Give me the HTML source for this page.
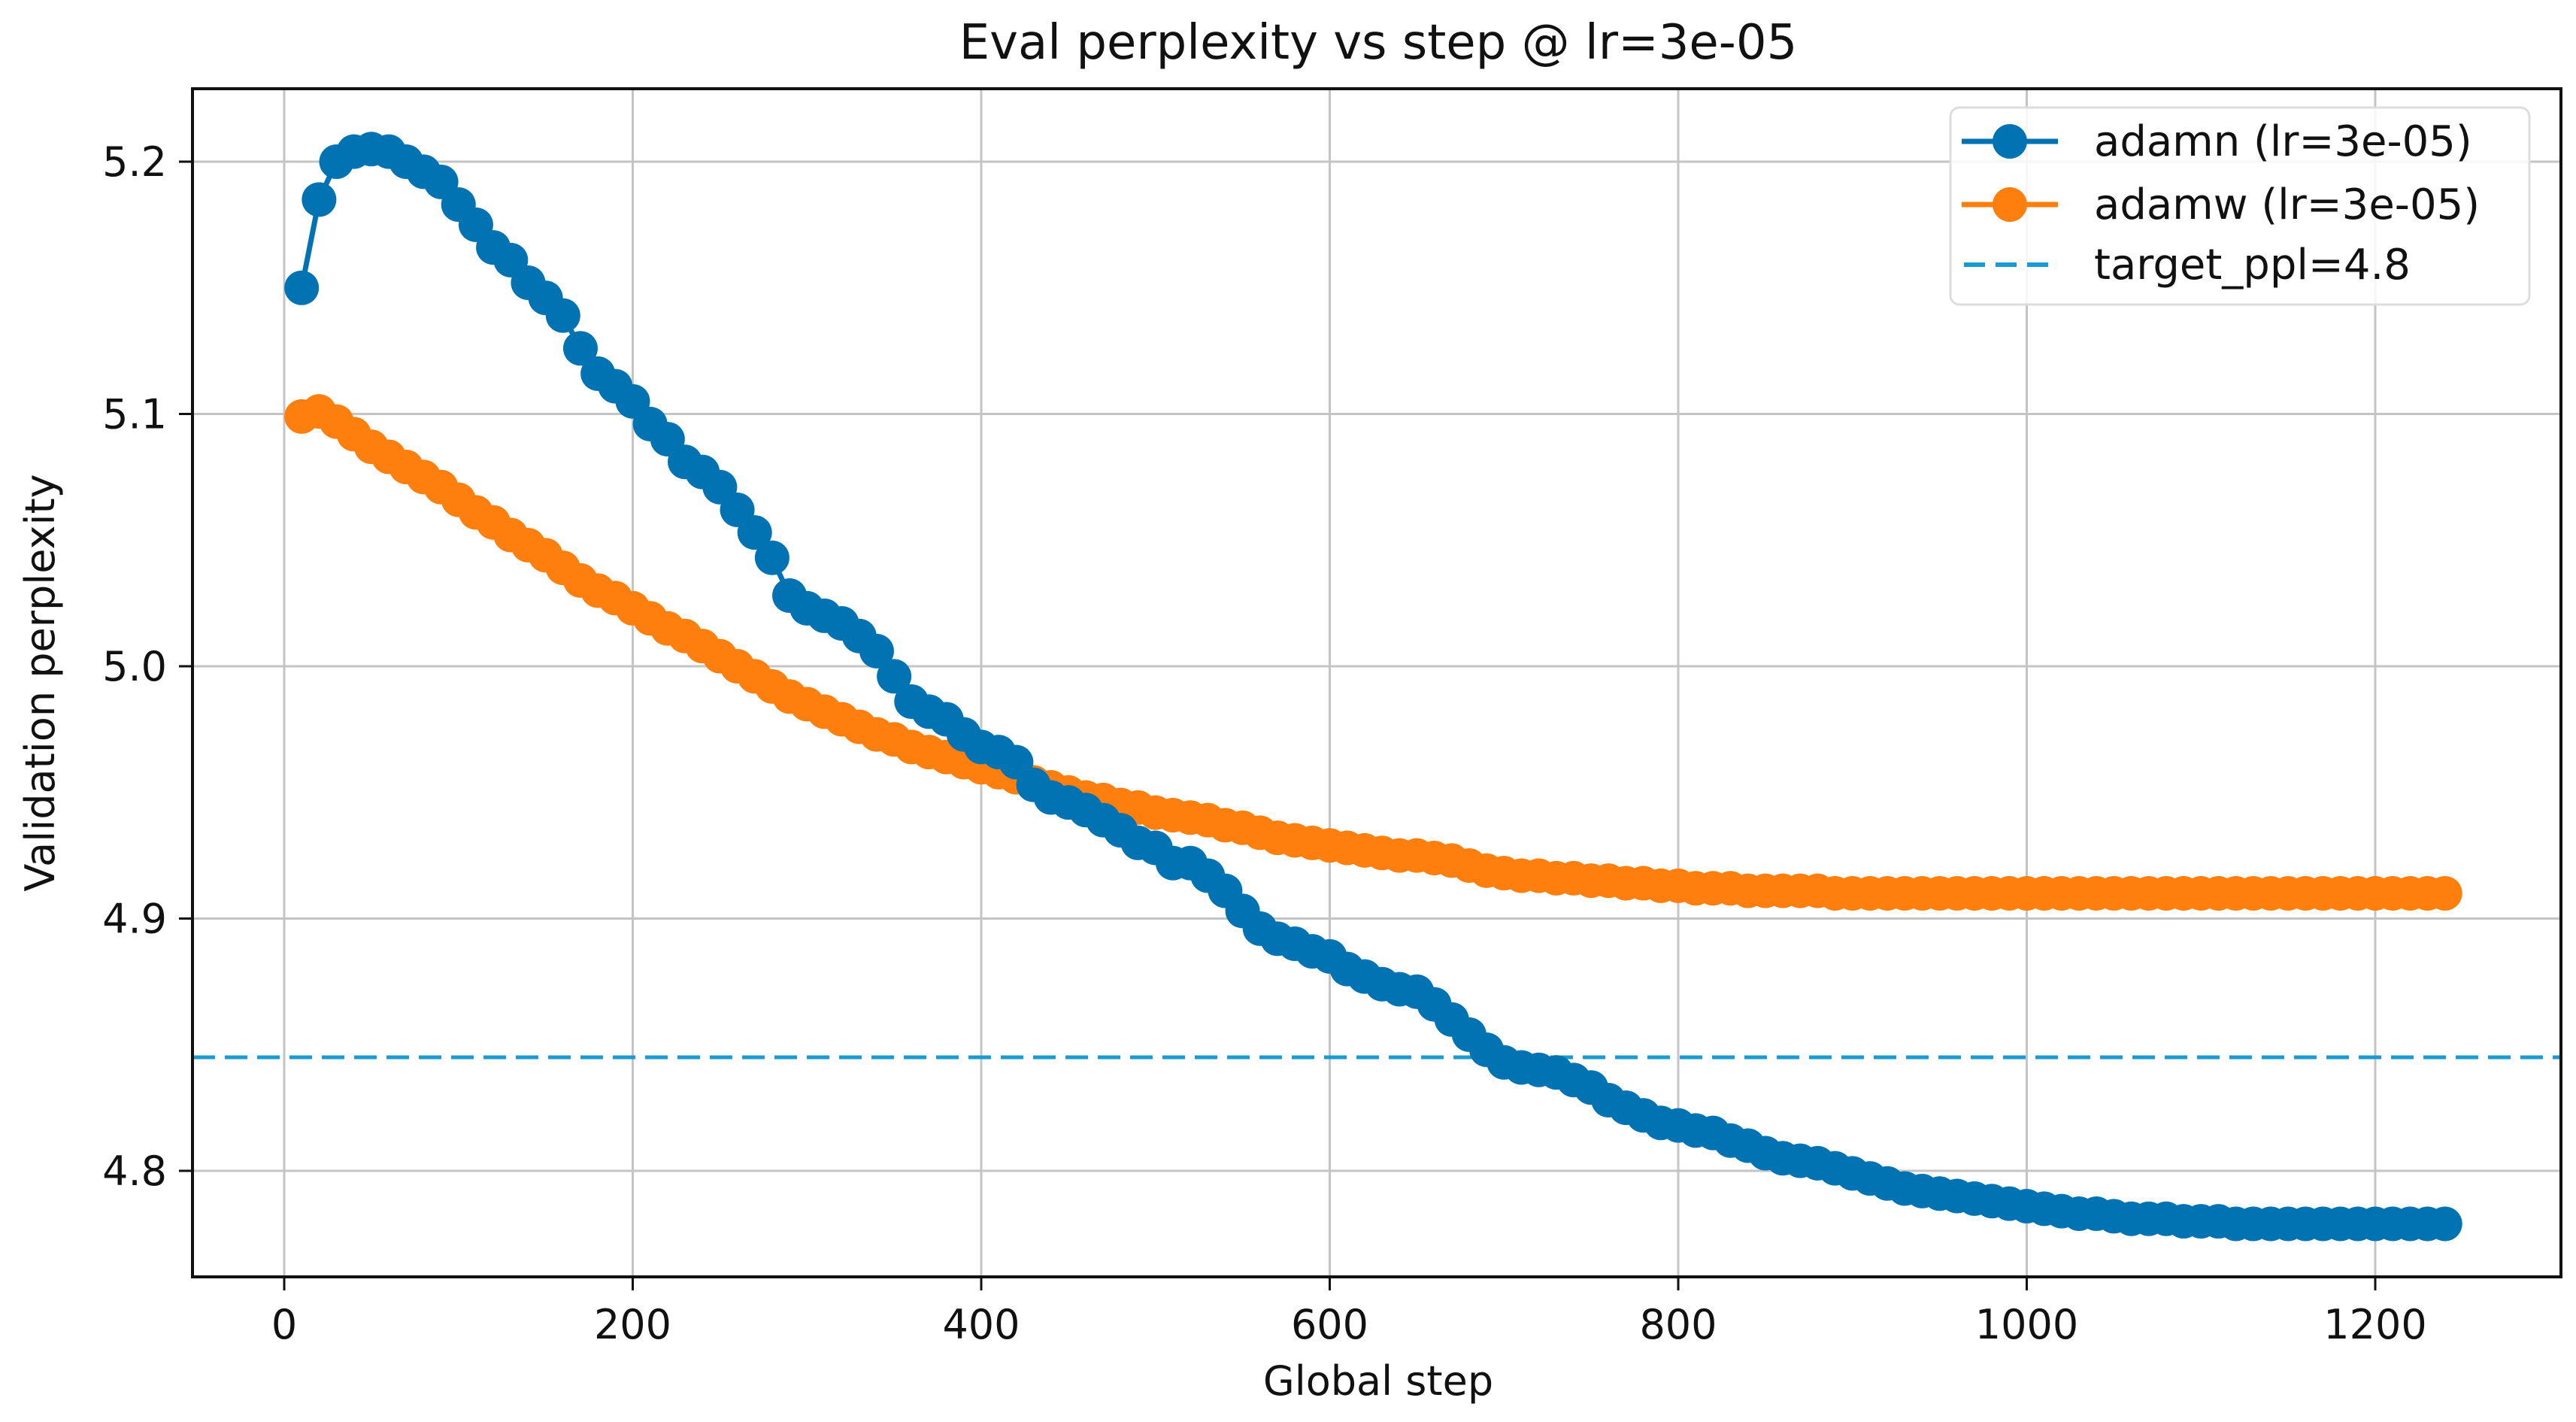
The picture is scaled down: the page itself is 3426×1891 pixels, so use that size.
<!DOCTYPE html>
<html><head><meta charset="utf-8"><style>
html,body{margin:0;padding:0;background:#fff;}
svg{display:block;font-family:"DejaVu Sans","Liberation Sans",sans-serif;}
</style></head><body>
<svg id="chart" width="3426" height="1891" viewBox="0 0 3426 1891">
<rect x="0" y="0" width="3426" height="1891" fill="#fff"/>
<text x="1833" y="78" font-size="64" text-anchor="middle" fill="#111">Eval perplexity vs step @ lr=3e-05</text>
<g id="grid"></g>
<g id="series"></g>
<rect x="256" y="118" width="3150" height="1580" fill="none" stroke="#111" stroke-width="4"/>
<g id="ticks"></g>
<text x="1833" y="1855" font-size="54" text-anchor="middle" fill="#111">Global step</text>
<text transform="translate(72,908) rotate(-90)" font-size="54" text-anchor="middle" fill="#111">Validation perplexity</text>
<g>
<rect x="2594" y="143" width="770" height="262" rx="12" fill="#fff" fill-opacity="0.85" stroke="#ddd" stroke-width="3"/>
<g>
<line x1="2609" y1="188" x2="2737" y2="188" stroke="#0173b2" stroke-width="7"/>
<circle cx="2673" cy="188" r="23" fill="#0173b2"/>
<text x="2785" y="207" font-size="56" fill="#111">adamn (lr=3e-05)</text></g>
<g>
<line x1="2609" y1="272" x2="2737" y2="272" stroke="#ff7f0e" stroke-width="7"/>
<circle cx="2673" cy="272" r="23" fill="#ff7f0e"/>
<text x="2785" y="291" font-size="56" fill="#111">adamw (lr=3e-05)</text></g>
<g>
<line x1="2612" y1="352" x2="2737" y2="352" stroke="#1a9ad0" stroke-width="6" stroke-dasharray="28,14"/>
<text x="2785" y="371" font-size="56" fill="#111">target_ppl=4.8</text></g>
</g>
</svg>
<script>
const steps = [];
for (let s = 10; s <= 1240; s += 10) steps.push(s);
const adamnValues = [5.150,5.185,5.200,5.204,5.205,5.204,5.200,5.196,5.192,5.183,5.175,5.166,5.161,5.152,5.146,5.139,5.126,5.116,5.111,5.105,5.096,5.090,5.081,5.077,5.071,5.062,5.053,5.043,5.028,5.023,5.020,5.017,5.012,5.006,4.996,4.986,4.982,4.979,4.973,4.968,4.966,4.962,4.953,4.948,4.946,4.943,4.939,4.935,4.930,4.928,4.922,4.922,4.917,4.911,4.903,4.896,4.892,4.890,4.887,4.885,4.880,4.877,4.874,4.872,4.871,4.866,4.860,4.854,4.848,4.843,4.841,4.840,4.839,4.836,4.833,4.828,4.825,4.822,4.819,4.818,4.816,4.815,4.812,4.810,4.807,4.805,4.804,4.803,4.801,4.799,4.797,4.795,4.793,4.792,4.791,4.790,4.789,4.788,4.787,4.786,4.785,4.784,4.783,4.783,4.782,4.781,4.781,4.781,4.780,4.780,4.780,4.779,4.779,4.779,4.779,4.779,4.779,4.779,4.779,4.779,4.779,4.779,4.779,4.779];
const adamwValues = [5.099,5.101,5.097,5.092,5.087,5.083,5.079,5.075,5.071,5.066,5.061,5.057,5.052,5.048,5.044,5.039,5.034,5.030,5.027,5.023,5.019,5.015,5.012,5.008,5.004,5.000,4.996,4.992,4.988,4.985,4.982,4.979,4.976,4.973,4.971,4.968,4.966,4.964,4.962,4.960,4.958,4.956,4.954,4.952,4.950,4.948,4.947,4.945,4.944,4.942,4.941,4.940,4.939,4.937,4.936,4.934,4.932,4.931,4.930,4.929,4.928,4.927,4.926,4.925,4.925,4.924,4.923,4.921,4.919,4.918,4.917,4.917,4.916,4.916,4.915,4.915,4.914,4.914,4.913,4.913,4.912,4.912,4.912,4.911,4.911,4.911,4.911,4.911,4.910,4.910,4.910,4.910,4.910,4.910,4.910,4.910,4.910,4.910,4.910,4.910,4.910,4.910,4.910,4.910,4.910,4.910,4.910,4.910,4.910,4.910,4.910,4.910,4.910,4.910,4.910,4.910,4.910,4.910,4.910,4.910,4.910,4.910,4.910,4.910];
const targetValue = [4.845];
const xTicks = [0,200,400,600,800,1000,1200];
const yTicks = [4.8,4.9,5.0,5.1,5.2];
const yTickLabels = ["4.8","4.9","5.0","5.1","5.2"];

const NS = "http://www.w3.org/2000/svg";
const X0 = 378, XK = 2.3175, Y52 = 215, YK = 3355;
const L = 256, R = 3406, T = 118, B = 1698;
function xs(v){ return X0 + v * XK; }
function ys(v){ return Y52 + (5.2 - v) * YK; }
function mk(tag, attrs, parent){ const e = document.createElementNS(NS, tag); for (const k in attrs) e.setAttribute(k, attrs[k]); parent.appendChild(e); return e; }

const grid = document.getElementById('grid');
const ticks = document.getElementById('ticks');
const series = document.getElementById('series');

xTicks.forEach(function(t){
  const g = mk('line', {x1: xs(t), x2: xs(t), y1: T, y2: B, stroke: '#c4c4c4', 'stroke-width': 3}, grid);
  
  
  const tk = mk('line', {x1: xs(t), x2: xs(t), y1: B, y2: B + 18, stroke: '#111', 'stroke-width': 3}, ticks);
  
  
  const lb = mk('text', {x: xs(t), y: 1780, 'font-size': 54, 'text-anchor': 'middle', fill: '#111'}, ticks);
  lb.textContent = String(t);
  
  
});
yTicks.forEach(function(t, i){
  const g = mk('line', {x1: L, x2: R, y1: ys(t), y2: ys(t), stroke: '#c4c4c4', 'stroke-width': 3}, grid);
  
  
  const tk = mk('line', {x1: L - 18, x2: L, y1: ys(t), y2: ys(t), stroke: '#111', 'stroke-width': 3}, ticks);
  
  
  const lb = mk('text', {x: 222, y: ys(t) + 19, 'font-size': 54, 'text-anchor': 'end', fill: '#111'}, ticks);
  lb.textContent = yTickLabels[i];
  
  
});

const tl = mk('line', {x1: L, x2: R, y1: ys(targetValue[0]), y2: ys(targetValue[0]), stroke: '#1a9ad0', 'stroke-width': 5, 'stroke-dasharray': '30,13'}, series);



function drawSeries(vals, color, name){
  const g = mk('g', {}, series);
  
  
  const pts = vals.map(function(v, i){ return xs(steps[i]) + ',' + ys(v); }).join(' ');
  const pl = mk('polyline', {points: pts, fill: 'none', stroke: color, 'stroke-width': 7, 'stroke-linejoin': 'round'}, g);
  
  
  vals.forEach(function(v, i){
    const c = mk('circle', {cx: xs(steps[i]), cy: ys(v), r: 23, fill: color}, g);
    
    
  });
}
drawSeries(adamwValues, '#ff7f0e', 'adamw-series');
drawSeries(adamnValues, '#0173b2', 'adamn-series');
</script>
</body></html>
